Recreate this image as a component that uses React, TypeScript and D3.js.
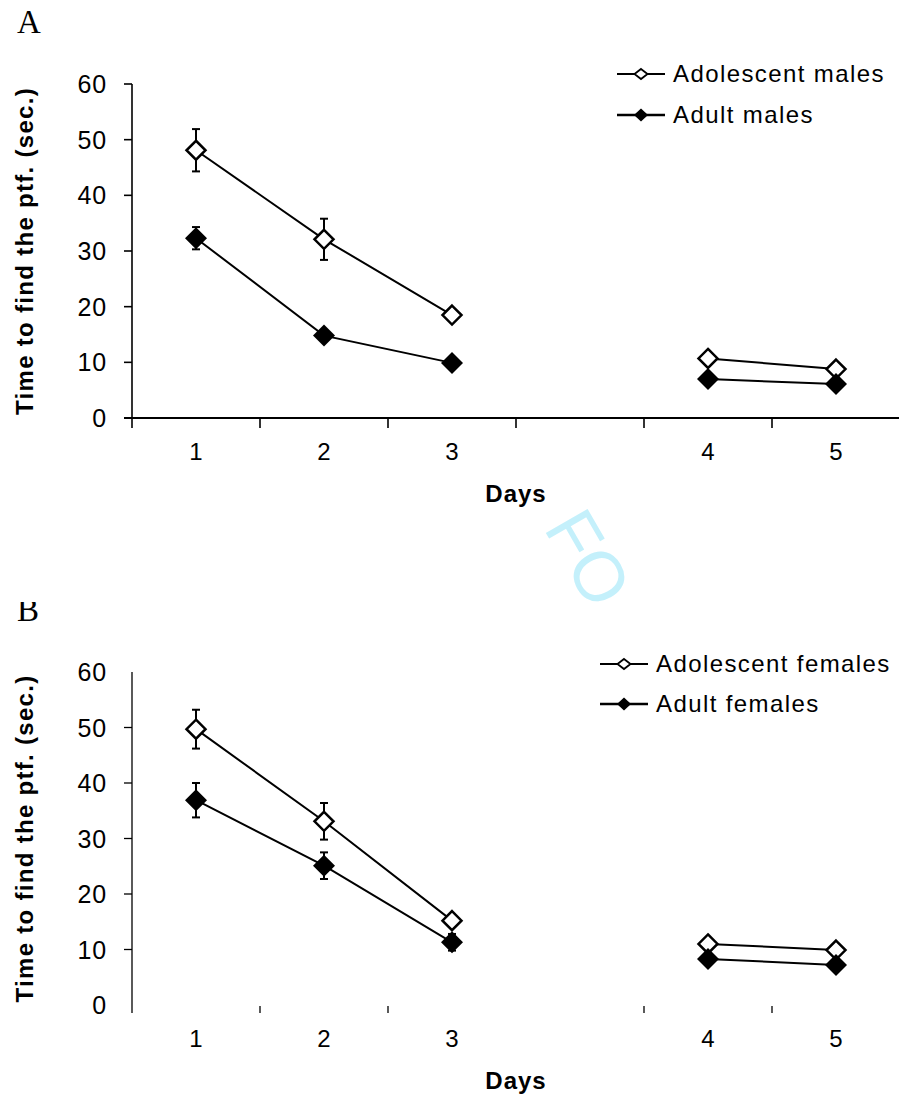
import React from "react";
import * as d3 from "d3";

// test sessions; "gap" is the empty slot between day 3 and day 4
const slots = ["1", "2", "3", "gap", "4", "5"];
const days = ["1", "2", "3", "4", "5"];
const blocks = [[0, 1, 2], [3, 4]];
const yTicks = [0, 10, 20, 30, 40, 50, 60];

const adolescentMalesMean = [48.1, 32.1, 18.5, 10.7, 8.8];
const adolescentMalesErr = [3.8, 3.7, 1.0, 0.8, 0.6];
const adultMalesMean = [32.3, 14.8, 9.9, 7.0, 6.1];
const adultMalesErr = [2.0, 0.9, 0.8, 0.6, 0.5];

const adolescentFemalesMean = [49.7, 33.1, 15.2, 11.0, 9.9];
const adolescentFemalesErr = [3.5, 3.3, 1.0, 0.7, 0.6];
const adultFemalesMean = [36.9, 25.1, 11.3, 8.3, 7.2];
const adultFemalesErr = [3.1, 2.4, 1.5, 0.7, 0.6];

const SANS = "'Liberation Sans', Arial, sans-serif";
const SERIF = "'Liberation Serif', 'Times New Roman', serif";

type Series = { name: string; mean: number[]; err: number[]; filled: boolean };

const diamond = (cx: number, cy: number, rx: number, ry: number) =>
  `M${cx},${cy - ry}L${cx + rx},${cy}L${cx},${cy + ry}L${cx - rx},${cy}Z`;

type PanelProps = {
  top: number;
  zero: number;
  series: Series[];
  yTickVals: number[];
  xTickIdx: number[];
  xBaseline: boolean;
  axisW: number;
  yAxisBottom: number;
  xTickY: [number, number];
  xLabelY: number;
  daysY: number;
  legendX: number;
  legendY: number[];
};

function Panel(p: PanelProps) {
  const x = d3.scaleBand<string>().domain(slots).range([132, 900]);
  const y = d3.scaleLinear().domain([0, 60]).range([p.zero, p.top]);
  const bw = x.bandwidth();
  const cx = (i: number) => (x(days[i]) as number) + bw / 2;
  const bounds = slots.map((s) => x(s) as number).concat([900]);

  return (
    <g>
      {/* y axis */}
      <line x1={132} x2={132} y1={p.top} y2={p.yAxisBottom} stroke="#000" strokeWidth={p.axisW} />
      {p.yTickVals.map((t) => (
        <line key={t} x1={124} x2={132} y1={y(t)} y2={y(t)} stroke="#000" strokeWidth={p.axisW} />
      ))}
      {yTicks.map((t) => (
        <text key={t} x={107} y={y(t)} dy="0.36em" textAnchor="end" fontFamily={SANS} fontSize={25} letterSpacing={0.8}>
          {t}
        </text>
      ))}
      <text
        transform={`translate(33,${(p.top + p.zero) / 2}) rotate(-90)`}
        textAnchor="middle"
        fontFamily={SANS}
        fontWeight="bold"
        fontSize={24}
        letterSpacing={1.3}
      >
        Time to find the ptf. (sec.)
      </text>

      {/* x axis */}
      {p.xBaseline && <line x1={124} x2={900} y1={p.zero} y2={p.zero} stroke="#000" strokeWidth={2} />}
      {p.xTickIdx.map((i) => (
        <line key={i} x1={bounds[i]} x2={bounds[i]} y1={p.xTickY[0]} y2={p.xTickY[1]} stroke="#000" strokeWidth={p.axisW} />
      ))}
      {days.map((d, i) => (
        <text key={d} x={cx(i)} y={p.xLabelY} textAnchor="middle" fontFamily={SANS} fontSize={24}>
          {d}
        </text>
      ))}
      <text x={516} y={p.daysY} textAnchor="middle" fontFamily={SANS} fontWeight="bold" fontSize={24} letterSpacing={1}>
        Days
      </text>

      {/* lines */}
      {p.series.map((s) =>
        blocks.map((b, k) => (
          <path
            key={s.name + k}
            d={d3.line<number>().x((i) => cx(i)).y((i) => y(s.mean[i]))(b) as string}
            fill="none"
            stroke="#000"
            strokeWidth={2}
          />
        ))
      )}
      {/* error bars */}
      {p.series.map((s) =>
        s.mean.map((m, i) => (
          <g key={s.name + "e" + i} stroke="#000" strokeWidth={2}>
            <line x1={cx(i)} x2={cx(i)} y1={y(m + s.err[i])} y2={y(m - s.err[i])} />
            <line x1={cx(i) - 4} x2={cx(i) + 4} y1={y(m + s.err[i])} y2={y(m + s.err[i])} />
            <line x1={cx(i) - 4} x2={cx(i) + 4} y1={y(m - s.err[i])} y2={y(m - s.err[i])} />
          </g>
        ))
      )}
      {/* markers */}
      {p.series.map((s) =>
        s.mean.map((m, i) =>
          s.filled ? (
            <path key={s.name + "m" + i} d={diamond(cx(i), y(m), 11, 11)} fill="#000" />
          ) : (
            <path key={s.name + "m" + i} d={diamond(cx(i), y(m), 9.5, 9.5)} fill="#fff" stroke="#000" strokeWidth={2.5} />
          )
        )
      )}

      {/* legend */}
      {p.series.map((s, k) => (
        <g key={s.name + "l"}>
          <line
            x1={p.legendX}
            x2={p.legendX + 48}
            y1={p.legendY[k] - 8}
            y2={p.legendY[k] - 8}
            stroke="#000"
            strokeWidth={s.filled ? 2.7 : 1.8}
          />
          {s.filled ? (
            <path d={diamond(p.legendX + 24, p.legendY[k] - 8, 7, 6.5)} fill="#000" />
          ) : (
            <path d={diamond(p.legendX + 24, p.legendY[k] - 8, 6.5, 5)} fill="#fff" stroke="#000" strokeWidth={1.8} />
          )}
          <text x={p.legendX + 56} y={p.legendY[k]} fontFamily={SANS} fontSize={24} letterSpacing={1.4}>
            {s.name}
          </text>
        </g>
      ))}
    </g>
  );
}

export default function App() {
  const males: Series[] = [
    { name: "Adolescent males", mean: adolescentMalesMean, err: adolescentMalesErr, filled: false },
    { name: "Adult males", mean: adultMalesMean, err: adultMalesErr, filled: true },
  ];
  const females: Series[] = [
    { name: "Adolescent females", mean: adolescentFemalesMean, err: adolescentFemalesErr, filled: false },
    { name: "Adult females", mean: adultFemalesMean, err: adultFemalesErr, filled: true },
  ];
  return (
    <svg width={899} height={1099} style={{ position: "absolute", left: 0, top: 0, background: "#fff" }}>
      <defs>
        <clipPath id="cutB">
          <rect x={0} y={602} width={100} height={40} />
        </clipPath>
        <clipPath id="cutMark">
          <rect x={500} y={505} width={200} height={115} />
        </clipPath>
      </defs>
      <g clipPath="url(#cutMark)">
        <text transform="translate(543,528) rotate(60)" fontFamily={SANS} fontSize={70} fill="#c4f0fb">
          FO
        </text>
      </g>
      <text x={17} y={33} fontFamily={SERIF} fontSize={33}>
        A
      </text>
      <text x={17} y={621} fontFamily={SERIF} fontSize={33} clipPath="url(#cutB)">
        B
      </text>
      <Panel
        top={84}
        zero={418}
        series={males}
        yTickVals={yTicks}
        xTickIdx={[0, 1, 2, 3, 4, 5, 6]}
        xBaseline={true}
        axisW={1.6}
        yAxisBottom={418}
        xTickY={[418, 428]}
        xLabelY={460}
        daysY={502}
        legendX={617}
        legendY={[82, 123]}
      />
      <Panel
        top={672}
        zero={1005}
        series={females}
        yTickVals={[10, 20, 30, 40, 50]}
        xTickIdx={[1, 2, 4, 5]}
        xBaseline={false}
        axisW={1.3}
        yAxisBottom={1013}
        xTickY={[1006, 1013]}
        xLabelY={1047}
        daysY={1089}
        legendX={600}
        legendY={[672, 712]}
      />
    </svg>
  );
}
